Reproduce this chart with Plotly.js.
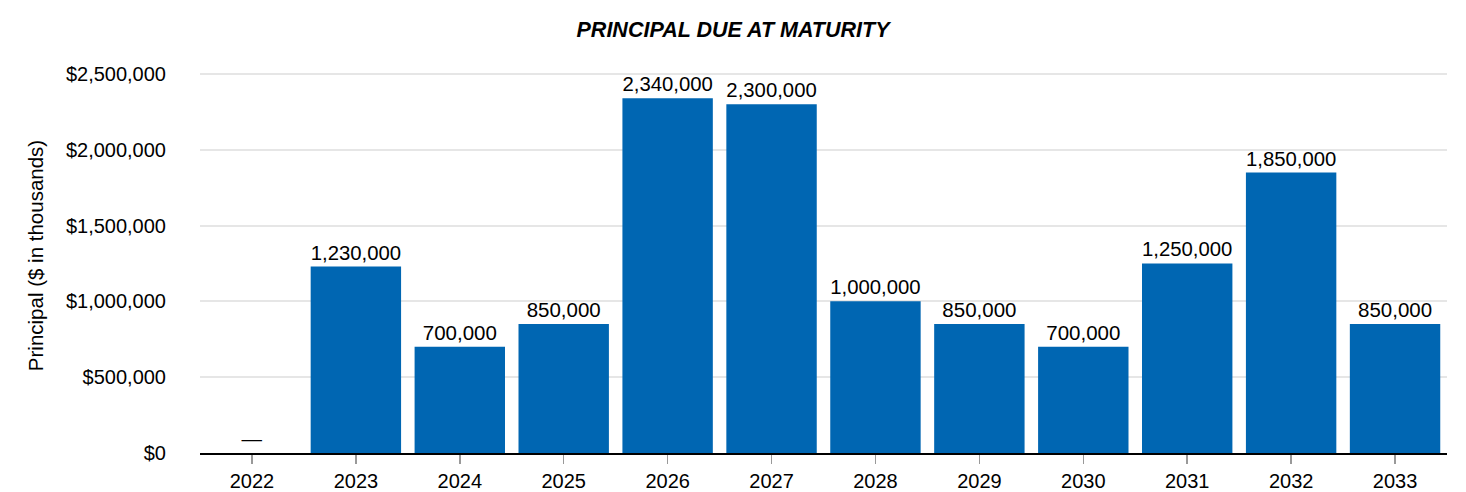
<!DOCTYPE html>
<html><head><meta charset="utf-8">
<script src="https://cdn.plot.ly/plotly-3.0.1.min.js"></script>
<style>html,body{margin:0;padding:0;background:#fff}#chart{width:1466px;height:492px}</style>
</head><body><div id="chart"></div>
<script>
const years = ["2022","2023","2024","2025","2026","2027","2028","2029","2030","2031","2032","2033"];
const principal = [0,1230000,700000,850000,2340000,2300000,1000000,850000,700000,1250000,1850000,850000];
const labels = ["—","1,230,000","700,000","850,000","2,340,000","2,300,000","1,000,000","850,000","700,000","1,250,000","1,850,000","850,000"];
const yTicks = [0,500000,1000000,1500000,2000000,2500000];
const yTickText = ["$0","$500,000","$1,000,000","$1,500,000","$2,000,000","$2,500,000"];

const font = "Liberation Sans, Arial, sans-serif";
Plotly.newPlot("chart", [{
  type: "bar", x: years, y: principal, text: labels, textposition: "outside",
  cliponaxis: false,
  textfont: {family: font, size: 20.5, color: "#000"},
  marker: {color: "#0066B2"}, hoverinfo: "none"
}], {
  width: 1466, height: 492,
  margin: {l: 200, r: 19, t: 58, b: 39},
  paper_bgcolor: "#fff", plot_bgcolor: "#fff",
  bargap: 0.13,
  title: {text: "<b><i>PRINCIPAL DUE AT MATURITY</i></b>", x: 0.5, xanchor: "center", y: 0.94, yanchor: "middle",
          font: {family: font, size: 21.5, color: "#000"}},
  xaxis: {type: "category", showline: true, linecolor: "#000", linewidth: 2,
          ticks: "outside", ticklen: 9, tickcolor: "#999", tickwidth: 1.5,
          tickfont: {family: font, size: 20, color: "#000"}, showgrid: false},
  yaxis: {range: [0, 2605000], tickvals: yTicks, ticktext: yTickText,
          tickfont: {family: font, size: 20, color: "#000"},
          gridcolor: "#e6e6e6", gridwidth: 2, zeroline: false, ticks: "", ticklabelstandoff: 33,
          title: {text: "Principal ($ in thousands)", font: {family: font, size: 20.5, color: "#000"}, standoff: 16}},
  showlegend: false
}, {displayModeBar: false, staticPlot: true});
</script></body></html>
